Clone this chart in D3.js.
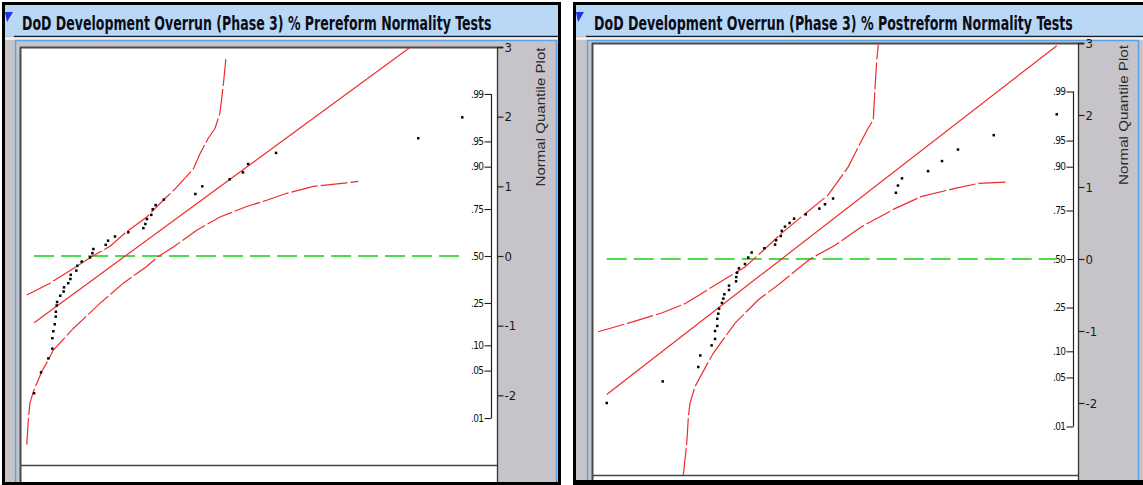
<!DOCTYPE html>
<html><head><meta charset="utf-8">
<script src="https://cdn.jsdelivr.net/npm/d3@7"></script>
<style>
html,body{margin:0;padding:0;background:#fff;}
svg{display:block;}
</style></head><body>
<svg id="chart" width="1143" height="485"></svg>
<script>
// ---------- data ----------
const titles = [
  "DoD Development Overrun (Phase 3) % Prereform Normality Tests",
  "DoD Development Overrun (Phase 3) % Postreform Normality Tests"
];
const axisTitle = "Normal Quantile Plot";
const quantileTicks = [3, 2, 1, 0, -1, -2];
const quantileLabels = ["3", "2", "1", "0", "-1", "-2"];
const probLabels = [".99", ".95", ".90", ".75", ".50", ".25", ".10", ".05", ".01"];
const probTickQuantiles = [2.326, 1.645, 1.282, 0.674, 0, -0.674, -1.282, -1.645, -2.326];
const overrunDomain = [-30, 210];
const quantileDomain = [-3, 3];

const preOverrun = [-23.4, -19.9, -16.2, -14.2, -14.2, -13.7, -13.0, -12.5, -12.4, -12.0,
  -11.8, -10.2, -8.5, -8.3, -6.2, -5.1, -4.9, -2.1, -1.6, 0.6,
  4.8, 6.0, 6.5, 12.7, 13.9, 17.4, 24.1, 31.7, 32.7, 33.5,
  35.7, 36.4, 37.9, 42.0, 57.9, 61.4, 75.2, 81.9, 84.5, 98.6,
  170.3, 192.5];
const preQuantile = [-1.97, -1.67, -1.47, -1.33, -1.18, -1.08, -0.98, -0.87, -0.80, -0.71,
  -0.66, -0.57, -0.51, -0.45, -0.39, -0.33, -0.27, -0.21, -0.14, -0.08,
  -0.02, 0.04, 0.10, 0.16, 0.22, 0.28, 0.34, 0.40, 0.46, 0.53,
  0.59, 0.67, 0.73, 0.81, 0.89, 1.00, 1.10, 1.20, 1.32, 1.48,
  1.69, 1.99];

const postOverrun = [-23.2, 4.5, 22.1, 23.1, 28.7, 30.4, 30.4, 31.5, 31.5, 32.0,
  32.4, 33.8, 34.5, 35.0, 37.3, 37.3, 40.8, 40.9, 41.3, 42.2,
  45.2, 46.8, 48.5, 54.8, 60.1, 60.6, 62.9, 63.4, 65.0, 67.3,
  69.5, 75.3, 82.0, 84.8, 88.8, 119.9, 120.9, 122.9, 135.8, 142.7,
  150.6, 168.3, 199.5];
const postQuantile = [-2.00, -1.70, -1.50, -1.34, -1.20, -1.11, -1.00, -0.93, -0.83, -0.76,
  -0.69, -0.61, -0.55, -0.49, -0.43, -0.37, -0.31, -0.25, -0.19, -0.13,
  -0.07, 0.02, 0.09, 0.15, 0.20, 0.26, 0.32, 0.39, 0.45, 0.50,
  0.56, 0.62, 0.70, 0.76, 0.84, 0.92, 1.02, 1.12, 1.22, 1.36,
  1.52, 1.72, 2.01];

// Lilliefors confidence bands
const preUpperBandX = [-27.1, -15.4, -3.6, 5.6, 14.9, 23.3, 33.4, 41.7, 47.6, 56.9, 60.3, 64.4, 67.8, 70.3, 71.7, 72.4, 73.4];
const preUpperBandQ = [-0.56, -0.39, -0.18, -0.01, 0.14, 0.35, 0.56, 0.80, 0.96, 1.25, 1.47, 1.69, 1.83, 2.05, 2.38, 2.57, 2.86];
const preLowerBandX = [-27.1, -26.3, -25.5, -23.8, -19.6, -16.2, -13.7, -3.6, 9.8, 21.6, 33.4, 39.1, 46.8, 58.6, 70.3, 83.8, 93.9, 104.0, 117.4, 134.2, 140.1];
const preLowerBandQ = [-2.71, -2.35, -2.11, -1.95, -1.66, -1.49, -1.35, -1.04, -0.68, -0.39, -0.15, -0.01, 0.13, 0.37, 0.56, 0.71, 0.80, 0.90, 1.00, 1.05, 1.07];

const postUpperBandX = [-27.4, -12.5, 4.0, 15.5, 25.4, 37.0, 45.2, 53.5, 63.4, 73.3, 86.4, 96.3, 103.0, 106.2, 108.7, 109.5, 110.4, 111.2];
const postUpperBandQ = [-1.01, -0.89, -0.75, -0.62, -0.45, -0.25, -0.11, 0.10, 0.36, 0.59, 0.89, 1.28, 1.65, 1.82, 1.93, 2.35, 2.76, 2.98];
const postLowerBandX = [14.7, 16.4, 17.2, 18.0, 20.5, 26.3, 29.5, 40.3, 51.7, 62.5, 77.4, 89.8, 103.0, 119.4, 132.7, 149.1, 160.7, 175.5];
const postLowerBandQ = [-3.0, -2.56, -2.19, -2.0, -1.77, -1.47, -1.31, -0.89, -0.57, -0.34, 0.0, 0.19, 0.45, 0.70, 0.87, 0.98, 1.05, 1.07];

// ---------- layout ----------
const panels = [
  { title: titles[0], xs: preOverrun, qs: preQuantile,
    ub: [preUpperBandX, preUpperBandQ], lb: [preLowerBandX, preLowerBandQ],
    black: [2, 561], inner: [5, 558], ul0: 14, blueL: 15.5, blueR: 556.5, bottom: 482,
    plotL: 21, plotR: 497, plotT: 47, plotB: 465, probX: 491, titleX: 22, titleLen: 470,
    rotX: 540, rotY: 117, rotLen: 139 },
  { title: titles[1], xs: postOverrun, qs: postQuantile,
    ub: [postUpperBandX, postUpperBandQ], lb: [postLowerBandX, postLowerBandQ],
    black: [573, 1150], inner: [576, 1150], ul0: 586, blueL: 587.5, blueR: 1138.5, bottom: 480,
    plotL: 593, plotR: 1078, plotT: 43, plotB: 475, probX: 1073, titleX: 594, titleLen: 479,
    rotX: 1123, rotY: 115, rotLen: 140 }
];

const narrow = "'Liberation Sans Narrow','Arial Narrow','DejaVu Sans Condensed','Liberation Sans',sans-serif";
const regular = "'Liberation Sans',Arial,sans-serif";
const RED = "#f22a2a", GREEN = "#4cdc4c", GRAY = "#c6c4c9", LIGHTBLUE = "#b9d8f6", BLUEBORDER = "#5aa2ea";

const svg = d3.select("#chart");

// squeeze a text horizontally to a target width using a transform (keeps its height)
function fitWidth(sel, x, y, target, rotate) {
  const n = sel.node().getComputedTextLength();
  const s = n > 0 ? target / n : 1;
  if (rotate) sel.attr("transform", `translate(${x},${y}) rotate(-90) scale(${s},1)`);
  else sel.attr("transform", `translate(${x},${y}) scale(${s},1)`);
}

panels.forEach((P, i) => {
  const g = svg.append("g");
  // black outer border
  g.append("rect").attr("x", P.black[0]).attr("y", 2)
    .attr("width", P.black[1] - P.black[0]).attr("height", 500).attr("fill", "#000");
  // gray body
  g.append("rect").attr("x", P.inner[0]).attr("y", 5)
    .attr("width", P.inner[1] - P.inner[0]).attr("height", P.bottom - 5).attr("fill", GRAY);
  // title bar
  g.append("rect").attr("x", P.inner[0]).attr("y", 5)
    .attr("width", P.inner[1] - P.inner[0]).attr("height", 31).attr("fill", LIGHTBLUE);
  g.append("line").attr("x1", P.ul0).attr("x2", P.inner[1]).attr("y1", 36.5).attr("y2", 36.5)
    .attr("stroke", "#1c1c24").attr("stroke-width", 1.5);
  g.append("rect").attr("x", P.inner[0]).attr("y", 37.3)
    .attr("width", P.inner[1] - P.inner[0]).attr("height", 2.5).attr("fill", "#f4f4f6");
  // disclosure triangle
  const tx = P.inner[0];
  g.append("path").attr("d", `M${tx},${12}L${tx + 8},${12}L${tx + 2},${22}Z`).attr("fill", "#1f2fe6");
  const tt = g.append("text").attr("x", 0).attr("y", 0)
    .attr("font-family", narrow).attr("font-weight", "bold").attr("font-size", 19)
    .attr("fill", "#0c0c18")
    .text(P.title);
  fitWidth(tt, P.titleX, 30, P.titleLen, false);
  // light blue frame
  g.append("path").attr("d", `M${P.blueL},${P.bottom}V40.5H${P.blueR}V${P.bottom}`)
    .attr("fill", "none").attr("stroke", BLUEBORDER).attr("stroke-width", 1.5);
  // white plot area
  g.append("rect").attr("x", P.plotL).attr("y", P.plotT)
    .attr("width", P.plotR - P.plotL).attr("height", P.bottom - P.plotT).attr("fill", "#fff");

  const x = d3.scaleLinear().domain(overrunDomain).range([P.plotL, P.plotR]);
  const y = d3.scaleLinear().domain(quantileDomain).range([P.plotB, P.plotT]);

  // frame lines
  g.append("line").attr("x1", P.plotL - 1).attr("x2", P.plotR + 6).attr("y1", P.plotT + 0.5).attr("y2", P.plotT + 0.5)
    .attr("stroke", "#4a4a4a").attr("stroke-width", 2);
  g.append("line").attr("x1", P.plotL - 0.5).attr("x2", P.plotL - 0.5).attr("y1", P.plotT).attr("y2", P.bottom)
    .attr("stroke", "#4a4a4a").attr("stroke-width", 2);
  g.append("line").attr("x1", P.plotL).attr("x2", P.plotR).attr("y1", P.plotB + 0.5).attr("y2", P.plotB + 0.5)
    .attr("stroke", "#444").attr("stroke-width", 1.6);

  // quantile axis (right)
  const qAxis = d3.axisRight(y).tickValues(quantileTicks)
    .tickFormat(d => quantileLabels[quantileTicks.indexOf(d)]).tickSize(6).tickPadding(1);
  const qa = g.append("g").attr("transform", `translate(${P.plotR + 0.5},0)`).call(qAxis);
  qa.select(".domain").attr("d", `M0,${P.plotT}V${P.bottom}`).attr("stroke", "#333").attr("stroke-width", 1.3);
  qa.selectAll(".tick line").attr("stroke", "#222").attr("stroke-width", 1.2);
  qa.selectAll(".tick text").attr("font-family", narrow).attr("font-size", 13).attr("fill", "#1a1a1a");

  // probability axis
  const pAxis = d3.axisLeft(y).tickValues(probTickQuantiles)
    .tickFormat(d => probLabels[probTickQuantiles.indexOf(d)]).tickSize(7).tickPadding(1);
  const pa = g.append("g").attr("transform", `translate(${P.probX + 0.5},0)`).call(pAxis);
  pa.select(".domain").attr("d", `M0,${y(probTickQuantiles[0])}V${y(probTickQuantiles[probTickQuantiles.length - 1])}`)
    .attr("stroke", "#222").attr("stroke-width", 1.2);
  pa.selectAll(".tick line").attr("stroke", "#222").attr("stroke-width", 1.1);
  pa.selectAll(".tick text").attr("font-family", narrow).attr("font-size", 10).attr("fill", "#111")
    .attr("letter-spacing", "-0.6");

  const rt = g.append("text")
    .attr("text-anchor", "middle").attr("dominant-baseline", "central")
    .attr("font-family", regular).attr("font-size", 13).attr("fill", "#2a2a2a")
    .text(axisTitle);
  fitWidth(rt, P.rotX, P.rotY, P.rotLen, true);

  // clipped plot contents
  const cid = "clip" + i;
  svg.append("defs").append("clipPath").attr("id", cid).append("rect")
    .attr("x", P.plotL).attr("y", P.plotT + 1).attr("width", P.plotR - P.plotL).attr("height", P.plotB - P.plotT - 1);
  const c = g.append("g").attr("clip-path", `url(#${cid})`);

  const mean = d3.mean(P.xs), sd = d3.deviation(P.xs);
  const [xmin, xmax] = d3.extent(P.xs);
  const line = d3.line().x(d => x(d[0])).y(d => y(d[1]));

  // zero reference (green)
  c.append("path").attr("d", line([[xmin, 0], [xmax, 0]]))
    .attr("fill", "none").attr("stroke", GREEN).attr("stroke-width", 2).attr("stroke-dasharray", "20,7");

  // fitted normal line
  c.append("path").attr("d", line([[xmin, (xmin - mean) / sd], [xmax, (xmax - mean) / sd]]))
    .attr("fill", "none").attr("stroke", RED).attr("stroke-width", 1.2);

  // confidence bands
  [P.ub, P.lb].forEach(b => {
    const pts = b[0].map((v, k) => [v, b[1][k]]);
    c.append("path").attr("d", line(pts))
      .attr("fill", "none").attr("stroke", RED).attr("stroke-width", 1.2).attr("stroke-dasharray", "27,3");
  });

  // data points
  c.selectAll("rect.pt").data(P.xs.map((v, k) => [v, P.qs[k]])).join("rect").attr("class", "pt")
    .attr("x", d => x(d[0]) - 1.25).attr("y", d => y(d[1]) - 1.25)
    .attr("width", 2.5).attr("height", 2.5).attr("fill", "#000");
});
</script>
</body></html>
